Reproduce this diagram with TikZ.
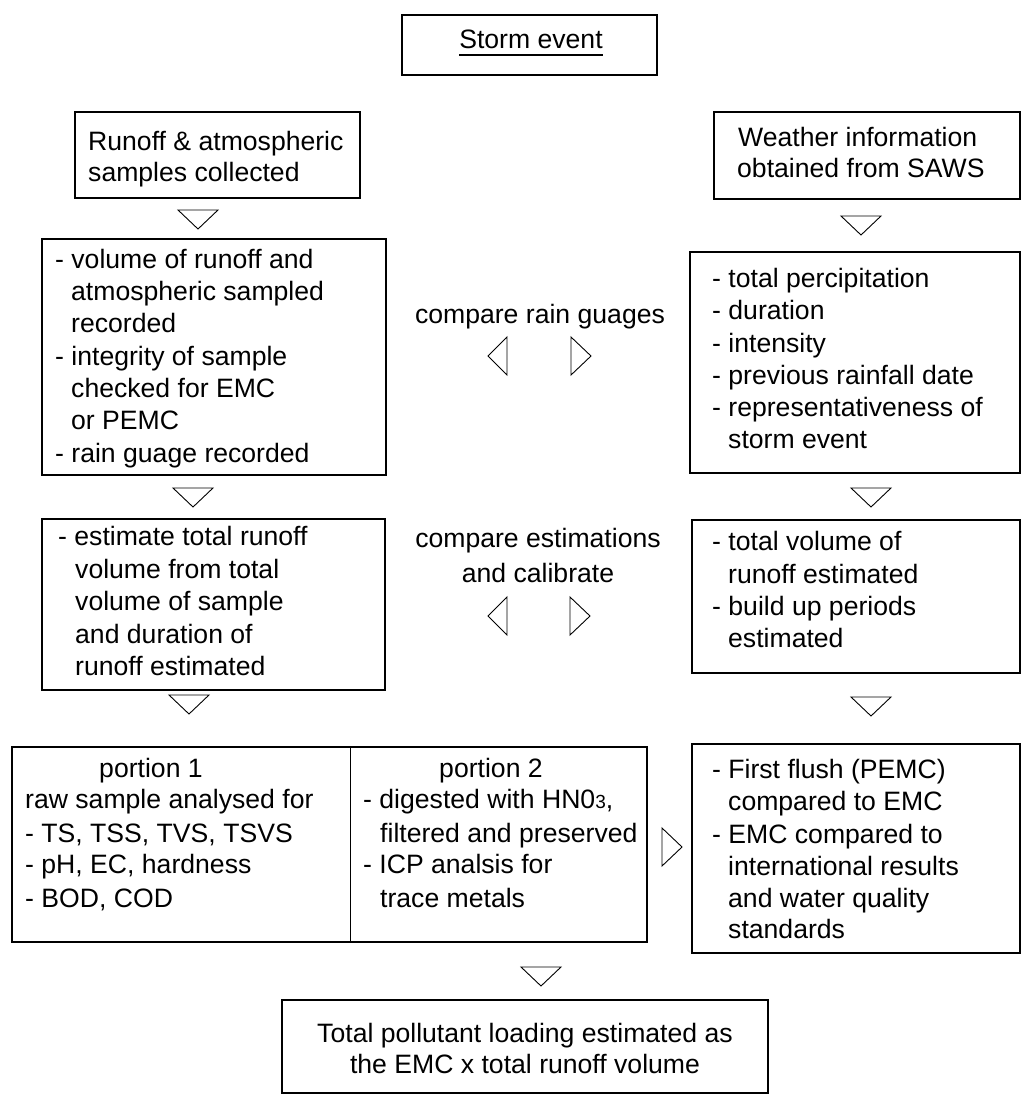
\documentclass[tikz,border=0pt]{standalone}
\usepackage{fontspec}
\setmainfont{Liberation Sans}
\newcommand\fs{\fontsize{26.6}{32.3}\selectfont}
\begin{document}
\begin{tikzpicture}[x=1pt,y=-1pt,
  box/.style={draw,line width=1.4pt},
  tri/.style={draw,line width=0.9pt,line join=miter},
  txt/.style={anchor=base west,inner sep=0pt,font=\fs},
  ctxt/.style={anchor=base,inner sep=0pt,font=\fs}]
\useasboundingbox (0,0) rectangle (1022,1095);

% ---- boxes
\draw[box] (402,15) rectangle (657,75);
\draw[box] (75,112) rectangle (360,198);
\draw[box] (714,112) rectangle (1020,199);
\draw[box] (42,239) rectangle (386,475);
\draw[box] (690,252) rectangle (1020,473);
\draw[box] (42,519) rectangle (385,690);
\draw[box] (692,520) rectangle (1020,673);
\draw[box] (12,747) rectangle (647,942);
\draw[line width=1pt] (350,747) -- (350,942);
\draw[box] (692,744) rectangle (1020,953);
\draw[box] (282,1000) rectangle (768,1093);

% ---- storm event
\node[ctxt] (storm) at (531,48) {Storm event};
\draw[line width=1.4pt] ([yshift=-7pt]storm.base west) -- ([yshift=-7pt]storm.base east);

% ---- runoff / weather
\node[txt] (ru1) at (88,150) {Runoff \& atmospheric};
\node[txt] (ru2) at (88,181) {samples collected};
\node[txt] (we1) at (738,146) {Weather information};
\node[txt] (we2) at (737,177) {obtained from SAWS};

% ---- volume box
\node[txt] (vo1) at (55,268) {- volume of runoff and};
\node[txt] (vo2) at (71,300) {atmospheric sampled};
\node[txt] (vo3) at (71,332) {recorded};
\node[txt] (vo4) at (55,365) {- integrity of sample};
\node[txt] (vo5) at (71,397) {checked for EMC};
\node[txt] (vo6) at (71,429) {or PEMC};
\node[txt] (vo7) at (55,462) {- rain guage recorded};

% ---- weather details
\node[txt] (wd1) at (712,287) {- total percipitation};
\node[txt] (wd2) at (712,319) {- duration};
\node[txt] (wd3) at (712,352) {- intensity};
\node[txt] (wd4) at (712,384) {- previous rainfall date};
\node[txt] (wd5) at (712,416) {- representativeness of};
\node[txt] (wd6) at (728,448) {storm event};

% ---- compare labels
\node[ctxt] (cmp1) at (540,323) {compare rain guages};
\node[ctxt] (cmp2) at (538,547) {compare estimations};
\node[ctxt] (cmp3) at (538,582) {and calibrate};

% ---- estimate box
\node[txt] (es1) at (58,545) {- estimate total runoff};
\node[txt] (es2) at (75,578) {volume from total};
\node[txt] (es3) at (75,610) {volume of sample};
\node[txt] (es4) at (75,643) {and duration of};
\node[txt] (es5) at (75,675) {runoff estimated};

% ---- right estimate box
\node[txt] (re1) at (712,550) {- total volume of};
\node[txt] (re2) at (728,583) {runoff estimated};
\node[txt] (re3) at (712,615) {- build up periods};
\node[txt] (re4) at (728,647) {estimated};

% ---- portion box
\node[ctxt] (p1) at (151,777) {portion 1};
\node[txt] (p1a) at (25,808) {raw sample analysed for};
\node[txt] (p1b) at (25,842) {- TS, TSS, TVS, TSVS};
\node[txt] (p1c) at (25,873) {- pH, EC, hardness};
\node[txt] (p1d) at (25,907) {- BOD, COD};
\node[ctxt] (p2) at (491,777) {portion 2};
\node[txt] (p2a) at (363,808) {- digested with HN0{\fontsize{19}{19}\selectfont 3},};
\node[txt] (p2b) at (380,842) {filtered and preserved};
\node[txt] (p2c) at (363,873) {- ICP analsis for};
\node[txt] (p2d) at (380,907) {trace metals};

% ---- first flush box
\node[txt] (ff1) at (712,778) {- First flush (PEMC)};
\node[txt] (ff2) at (728,810) {compared to EMC};
\node[txt] (ff3) at (712,843) {- EMC compared to};
\node[txt] (ff4) at (728,875) {international results};
\node[txt] (ff5) at (728,907) {and water quality};
\node[txt] (ff6) at (728,938) {standards};

% ---- total box
\node[ctxt] (to1) at (525,1042) {Total pollutant loading estimated as};
\node[ctxt] (to2) at (525,1073) {the EMC x total runoff volume};

% ---- down triangles
\foreach \cx/\ty in {198/210,193/488,189/695,861/216,871/488,871/697,541/967}
  \draw[tri] ({\cx-20},\ty) -- ({\cx+20},\ty) -- (\cx,{\ty+19}) -- cycle;
% ---- left triangles
\foreach \ty in {337,597}
  \draw[tri] (507,\ty) -- (488,{\ty+19}) -- (507,{\ty+38}) -- cycle;
% ---- right triangles
\foreach \bx/\ty in {571/337,570/597,662/828}
  \draw[tri] (\bx,\ty) -- ({\bx+20},{\ty+19}) -- (\bx,{\ty+38}) -- cycle;
\end{tikzpicture}
\end{document}
